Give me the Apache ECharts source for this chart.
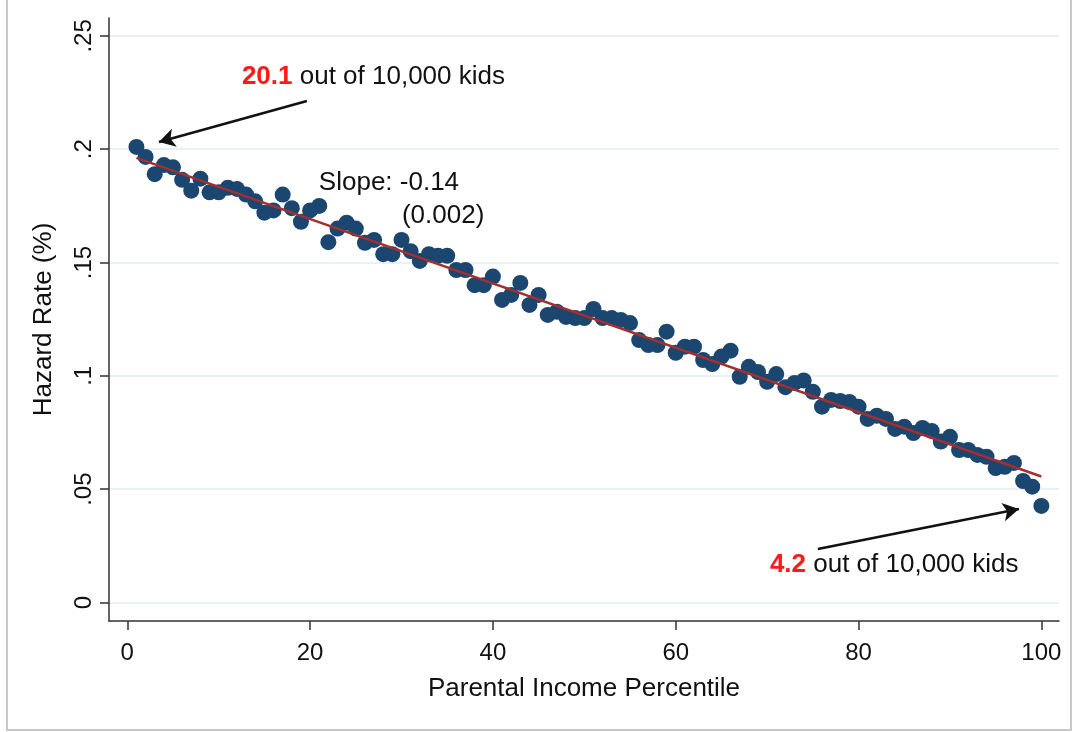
<!DOCTYPE html>
<html><head><meta charset="utf-8">
<script src="https://cdn.jsdelivr.net/npm/echarts@6/dist/echarts.min.js"></script>
<style>html,body{margin:0;padding:0;background:#fff}#c{width:1078px;height:732px}</style>
</head><body><div id="c"></div>
<script>
const percentiles = [1,2,3,4,5,6,7,8,9,10,11,12,13,14,15,16,17,18,19,20,
  21,22,23,24,25,26,27,28,29,30,31,32,33,34,35,36,37,38,39,40,
  41,42,43,44,45,46,47,48,49,50,51,52,53,54,55,56,57,58,59,60,
  61,62,63,64,65,66,67,68,69,70,71,72,73,74,75,76,77,78,79,80,
  81,82,83,84,85,86,87,88,89,90,91,92,93,94,95,96,97,98,99,100];
const hazardRate = [0.201,0.1966,0.189,0.193,0.192,0.1865,0.1817,0.187,0.181,0.181,
  0.183,0.1825,0.180,0.177,0.172,0.173,0.180,0.174,0.168,0.173,
  0.175,0.159,0.165,0.1676,0.165,0.1587,0.160,0.1537,0.1537,0.160,
  0.155,0.1507,0.1537,0.153,0.153,0.1467,0.1467,0.140,0.140,0.1438,
  0.1335,0.1357,0.141,0.1313,0.1357,0.1269,0.1283,0.126,0.1255,0.1255,
  0.1295,0.1255,0.1255,0.1247,0.1233,0.1158,0.1136,0.1136,0.1195,0.1102,
  0.1129,0.1129,0.107,0.1052,0.1085,0.1111,0.0996,0.104,0.1017,0.0974,
  0.1008,0.0950,0.0969,0.098,0.093,0.0864,0.0894,0.0889,0.0885,0.0864,
  0.081,0.0824,0.081,0.0766,0.0776,0.0748,0.077,0.0757,0.071,0.0731,
  0.0673,0.0673,0.0651,0.0643,0.0593,0.0599,0.0616,0.0536,0.0511,0.0426];
const fitX = [1, 100];
const fitY = [0.1962, 0.0556];
const xTickValues = [0,20,40,60,80,100];
const yTickValues = [0,0.05,0.1,0.15,0.2,0.25];
const yTickLabels = ['0','.05','.1','.15','.2','.25'];
const xTitle = 'Parental Income Percentile';
const yTitle = 'Hazard Rate (%)';
const topNote = ['20.1', ' out of 10,000 kids'];
const bottomNote = ['4.2', ' out of 10,000 kids'];
const slopeNote = ['Slope: -0.14', '(0.002)'];
// annotation anchors in data units
const topNoteAt = [12.54, 0.2319];
const topArrow = [[19.65, 0.2213], [3.46, 0.2032]];
const slopeAt = [20.96, 0.1851];
const seAt = [30.05, 0.1706];
const bottomNoteAt = [70.3, 0.0166];
const bottomArrow = [[75.55, 0.0236], [97.54, 0.0413]];

const FONT = '"Liberation Sans", Arial, Helvetica, sans-serif';
const points = percentiles.map((p, i) => [p, hazardRate[i]]);
const fitLine = fitX.map((x, i) => [x, fitY[i]]);

const chart = echarts.init(document.getElementById('c'), null, {renderer: 'canvas'});
const noteLabel = (parts) => ({
  show: true, position: 'right', distance: 0,
  formatter: '{r|' + parts[0] + '}{k|' + parts[1] + '}',
  rich: {
    r: {color: '#ff1a1a', fontWeight: 'bold', fontSize: 26, fontFamily: FONT},
    k: {color: '#111', fontSize: 26, fontFamily: FONT}
  }
});
const plainLabel = (txt) => ({
  show: true, position: 'right', distance: 0, formatter: txt,
  color: '#111', fontSize: 26, fontFamily: FONT
});

chart.setOption({
  animation: false,
  backgroundColor: '#fff',
  grid: {left: 109, right: 19, top: 18, bottom: 111, containLabel: false},
  xAxis: {
    type: 'value', min: -2.0, max: 101.93,
    name: xTitle, nameLocation: 'middle', nameGap: 55,
    nameTextStyle: {fontSize: 26, color: '#111', fontFamily: FONT},
    axisLine: {show: true, onZero: false, lineStyle: {color: '#333', width: 1.5}},
    axisTick: {show: true, length: 9, customValues: xTickValues, lineStyle: {color: '#333', width: 1.5}},
    axisLabel: {customValues: xTickValues, margin: 20, fontSize: 24, color: '#111', fontFamily: FONT},
    splitLine: {show: false}
  },
  yAxis: {
    type: 'value', min: -0.00816, max: 0.2579,
    name: yTitle, nameLocation: 'middle', nameGap: 52, nameRotate: 90,
    nameTextStyle: {fontSize: 26, color: '#111', fontFamily: FONT},
    axisLine: {show: true, onZero: false, lineStyle: {color: '#333', width: 1.5}},
    axisTick: {show: true, length: 9, customValues: yTickValues, lineStyle: {color: '#333', width: 1.5}},
    axisLabel: {customValues: yTickValues, rotate: 90, margin: 13, fontSize: 24, color: '#111', fontFamily: FONT,
      formatter: (v) => {
        const i = yTickValues.findIndex(t => Math.abs(t - v) < 1e-9);
        return i >= 0 ? yTickLabels[i] : '';
      }},
    splitLine: {show: true, lineStyle: {color: '#e3edf1', width: 1.5}}
  },
  series: [
    {
      type: 'scatter', data: points, symbolSize: 16,
      itemStyle: {color: '#1a4670', opacity: 1},
      z: 3
    },
    {
      type: 'line', data: fitLine, showSymbol: false, symbol: 'none',
      lineStyle: {color: '#a3302f', width: 2.4}, z: 4,
      markLine: {
        silent: true, symbol: ['none', 'arrow'], symbolSize: [14, 16],
        lineStyle: {color: '#111', width: 2.5, type: 'solid'},
        label: {show: false},
        data: [
          [{coord: topArrow[0]}, {coord: topArrow[1]}],
          [{coord: bottomArrow[0]}, {coord: bottomArrow[1]}]
        ]
      },
      markPoint: {
        silent: true, symbol: 'circle', symbolSize: 0,
        data: [
          {coord: topNoteAt, label: noteLabel(topNote)},
          {coord: bottomNoteAt, label: noteLabel(bottomNote)},
          {coord: slopeAt, label: plainLabel(slopeNote[0])},
          {coord: seAt, label: plainLabel(slopeNote[1])}
        ]
      }
    }
  ],
  graphic: [{
    type: 'rect', silent: true,
    shape: {x: 7, y: -10, width: 1064, height: 740},
    style: {fill: 'none', stroke: '#c8c8c8', lineWidth: 2}
  }]
});
</script>
</body></html>
